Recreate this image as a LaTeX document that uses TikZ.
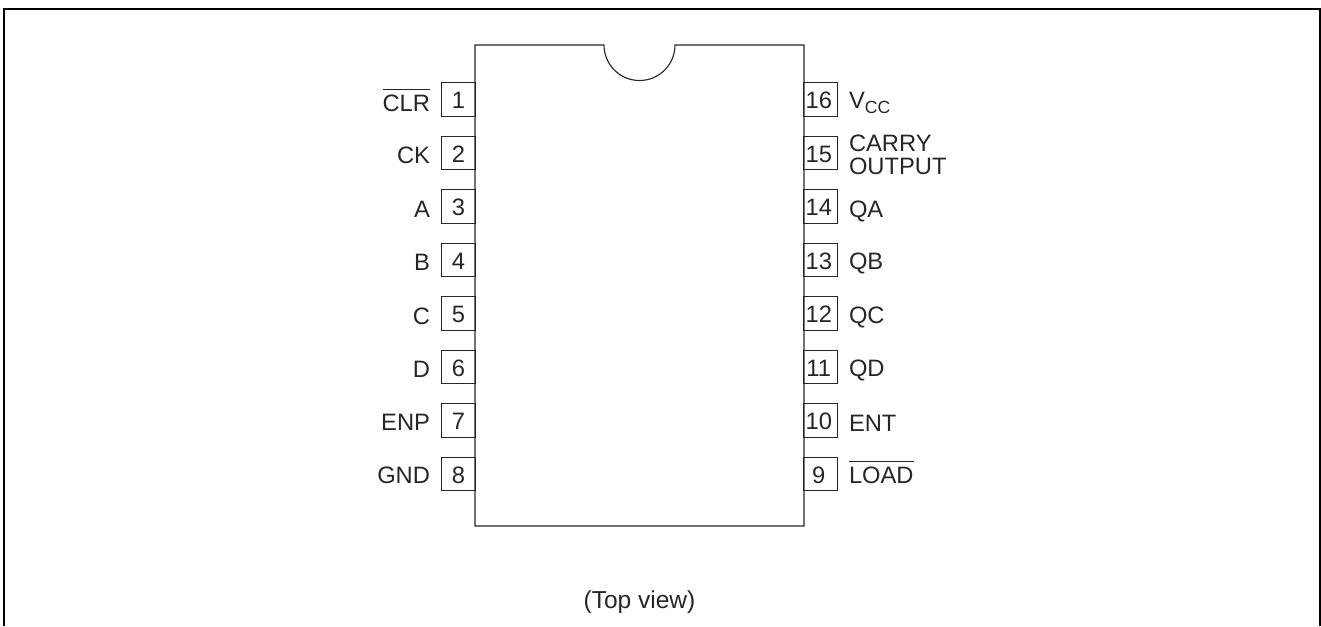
\documentclass[tikz,border=0pt]{standalone}
\usepackage{fontspec}
\setmainfont{Liberation Sans}
\tikzset{
  x=0.75pt,y=-0.75pt,
  frameline/.style={draw=black,line width=1.9pt},
  chipline/.style={draw=black!85,line width=0.85pt},
  pinbox/.style={chipline,minimum width=25pt,minimum height=25pt,inner sep=0pt,outer sep=0pt,text height=14.2pt,text depth=0pt,font=\fontsize{17.8}{18}\selectfont,text=black!85},
  pinlabel/.style={font=\fontsize{17.8}{17.8}\selectfont,text=black!85,inner sep=0pt,outer sep=0pt},
  leftlabel/.style={pinlabel,anchor=base east},
  rightlabel/.style={pinlabel,anchor=base west},
}
\newcommand{\ovl}[1]{\leavevmode\setbox0\hbox{#1}\rlap{\raisebox{15.6pt}{\rule{\wd0}{0.6pt}}}\box0}
\newcommand{\rd}[1]{#1\kern2.6pt}
\begin{document}
\begin{tikzpicture}
\useasboundingbox (0,0) rectangle (1321,626);
\coordinate (f1) at (4,626);
\coordinate (f2) at (4,9);
\coordinate (f3) at (1320,9);
\coordinate (f4) at (1320,626);
\draw[frameline] (f1) -- (f2) -- (f3) -- (f4);
\draw[chipline] (604,45) -- (475,45) -- (475,526) -- (804,526) -- (804,45) -- (675,45)
  arc[start angle=0,end angle=-180,radius=35.5,y radius=-35.5];
\node[pinbox] (p1) at (458.5,99.5) {1};
\node[pinbox] (p2) at (458.5,153) {2};
\node[pinbox] (p3) at (458.5,206.5) {3};
\node[pinbox] (p4) at (458.5,260) {4};
\node[pinbox] (p5) at (458.5,313.5) {5};
\node[pinbox] (p6) at (458.5,367) {6};
\node[pinbox] (p7) at (458.5,420.5) {7};
\node[pinbox] (p8) at (458.5,474) {8};
\node[pinbox] (p16) at (820.5,99.5) {\rd{16}};
\node[pinbox] (p15) at (820.5,153) {\rd{15}};
\node[pinbox] (p14) at (820.5,206.5) {\rd{14}};
\node[pinbox] (p13) at (820.5,260) {\rd{13}};
\node[pinbox] (p12) at (820.5,313.5) {\rd{12}};
\node[pinbox] (p11) at (820.5,367) {\rd{11}};
\node[pinbox] (p10) at (820.5,420.5) {\rd{10}};
\node[pinbox] (p9) at (820.5,474) {\rd{9}};
\node[leftlabel] (l1) at (430,111) {\ovl{CLR}};
\node[leftlabel] (l2) at (430,163.5) {CK};
\node[leftlabel] (l3) at (430,217) {A};
\node[leftlabel] (l4) at (430,270) {B};
\node[leftlabel] (l5) at (430,324) {C};
\node[leftlabel] (l6) at (430,377) {D};
\node[leftlabel] (l7) at (430,430) {ENP};
\node[leftlabel] (l8) at (430,483.5) {GND};
\node[rightlabel] (r16) at (849,108) {V\raisebox{-4pt}{\fontsize{13.2}{13.2}\selectfont CC}};
\node[rightlabel] (r15a) at (849,151) {CARRY};
\node[rightlabel] (r15b) at (849,174) {OUTPUT};
\node[rightlabel] (r14) at (849,217) {QA};
\node[rightlabel] (r13) at (849,269.5) {QB};
\node[rightlabel] (r12) at (849,323) {QC};
\node[rightlabel] (r11) at (849,376) {QD};
\node[rightlabel] (r10) at (849,431) {ENT};
\node[rightlabel] (r9) at (849,483) {\ovl{LOAD}};
\node[pinlabel,anchor=base,font=\fontsize{18.4}{18.4}\selectfont] (tv) at (639.5,608) {(Top view)};
\end{tikzpicture}
\end{document}
